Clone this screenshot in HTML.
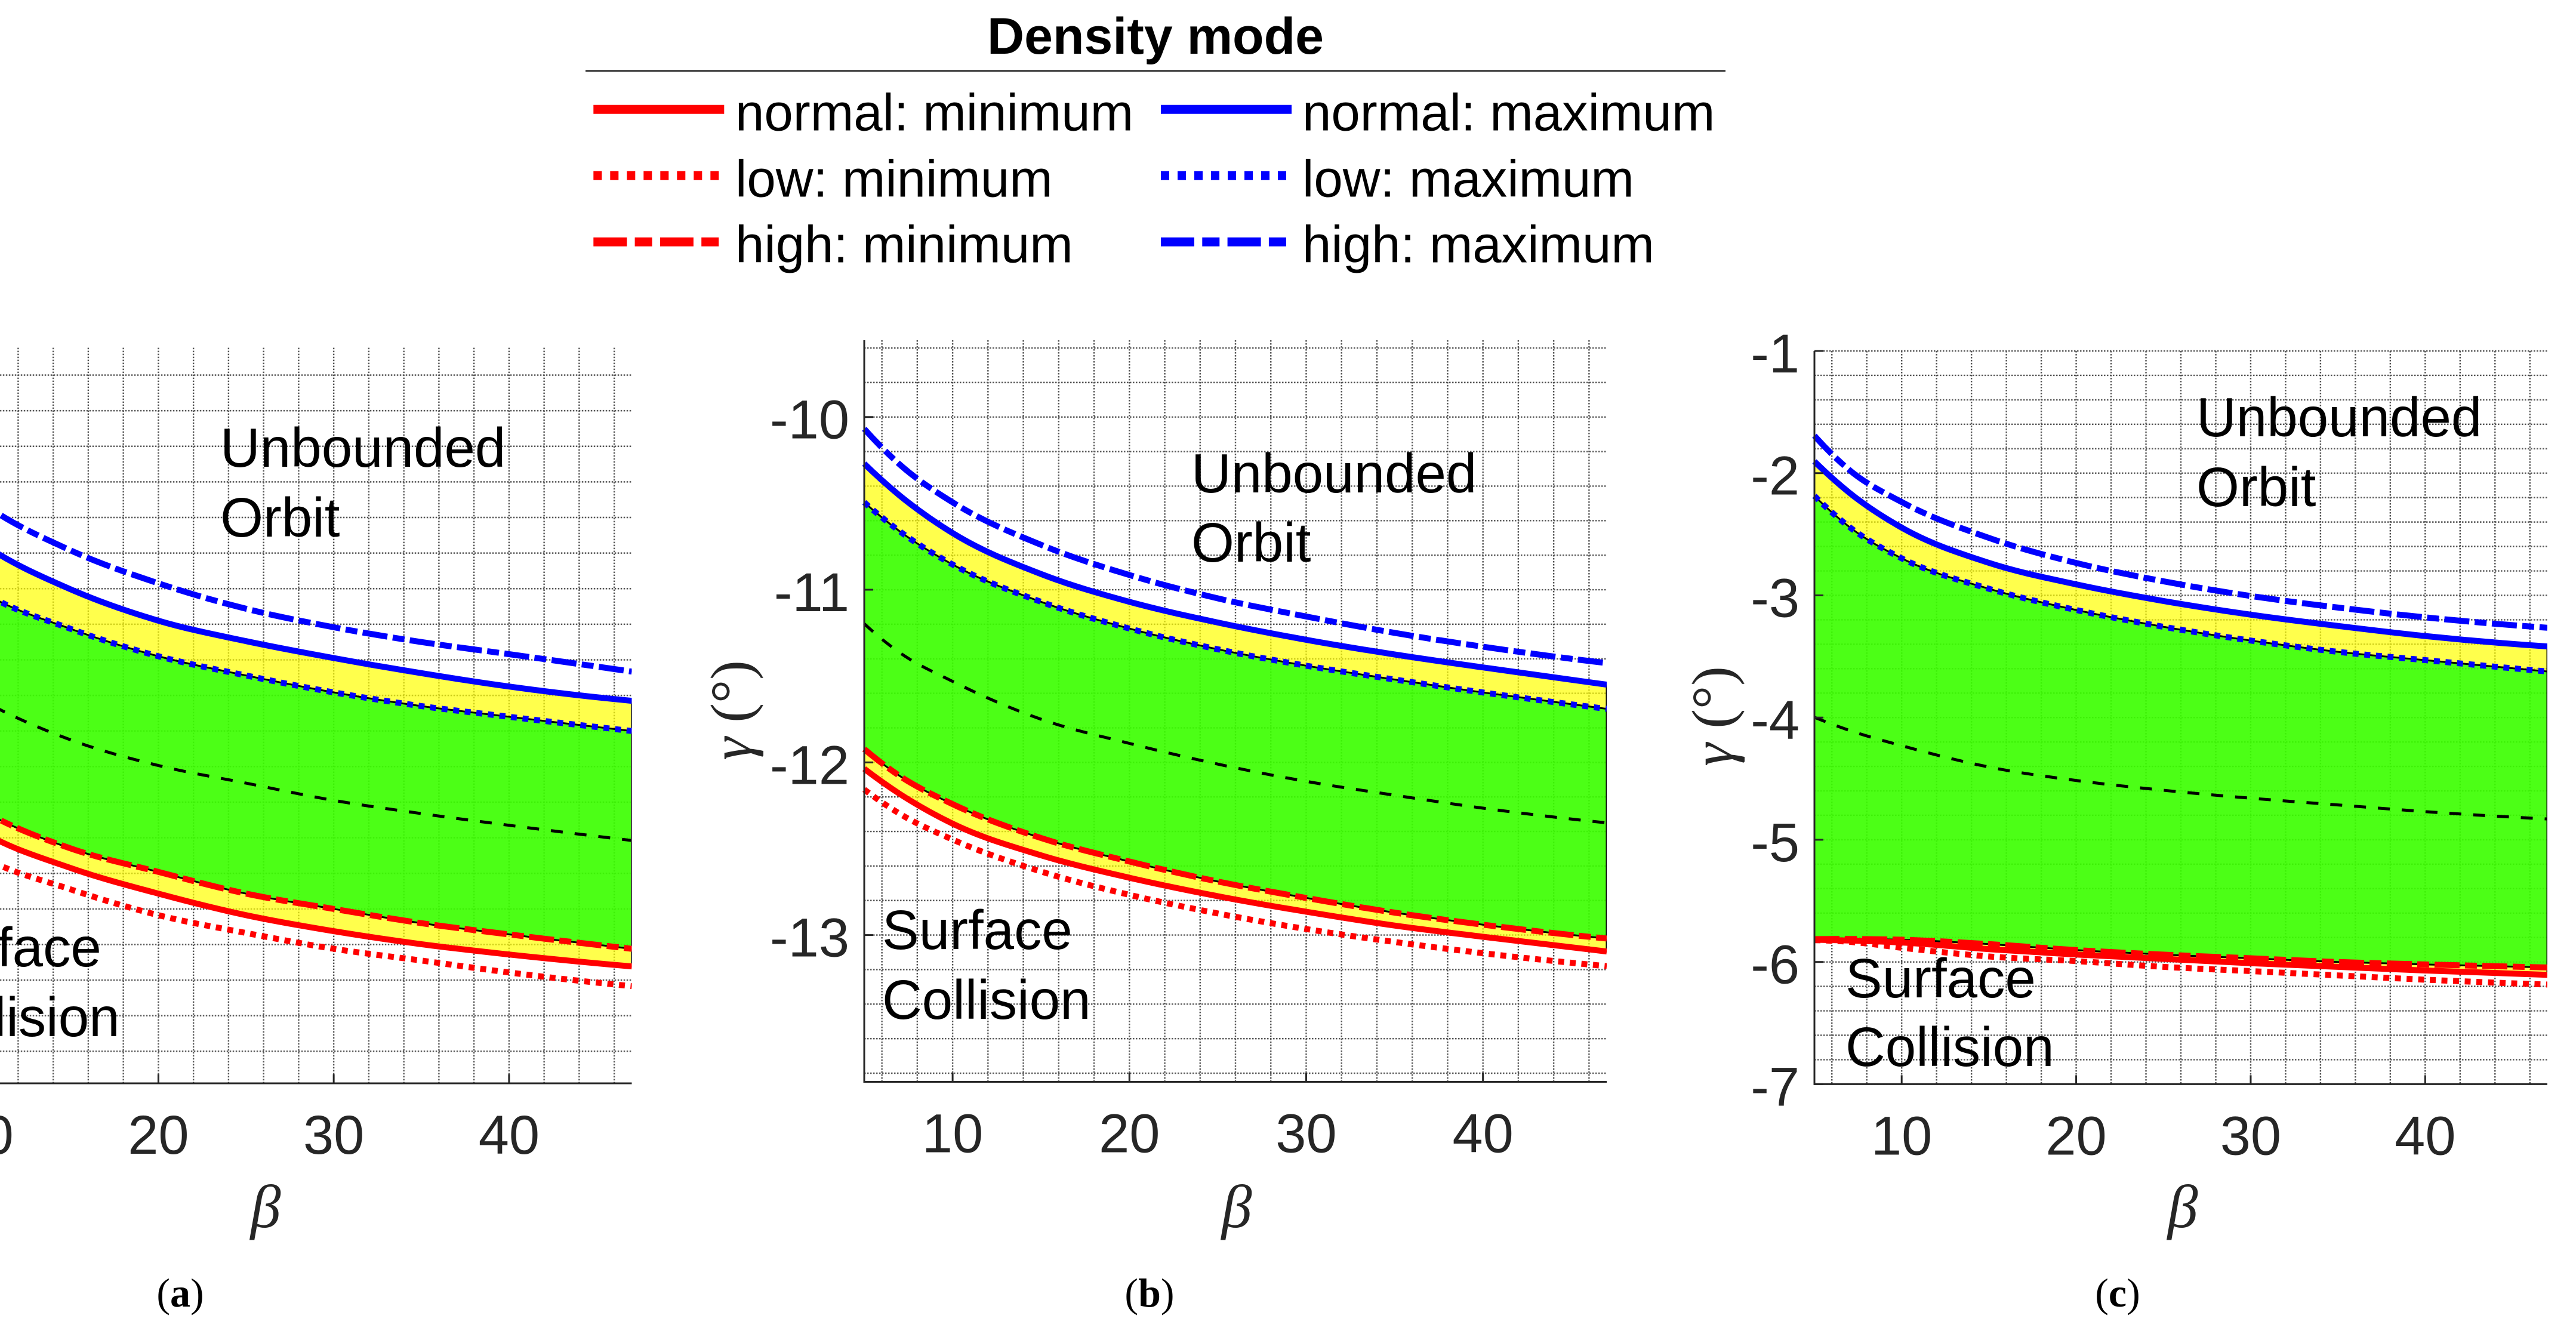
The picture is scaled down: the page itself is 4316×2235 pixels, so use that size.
<!DOCTYPE html>
<html lang="en">
<head>
<meta charset="utf-8">
<title>Density mode corridor charts</title>
<style>
html,body{margin:0;padding:0;background:#fff;width:4316px;height:2235px;overflow:hidden}
svg{display:block}
text{font-family:"Liberation Sans",sans-serif}
.serif{font-family:"Liberation Serif",serif}
.legend-text{font-size:87px;fill:#000}
.note{font-size:92.5px;fill:#000}
.beta{font-family:"Liberation Serif",serif;font-style:italic;font-size:102px;fill:#262626;text-anchor:middle}
.cap{font-family:"Liberation Serif",serif;font-size:68px;fill:#000;text-anchor:middle}
.gamma{font-family:"Liberation Serif",serif;font-size:98px;fill:#262626;text-anchor:middle}
</style>
</head>
<body>
<svg id="figure" xmlns="http://www.w3.org/2000/svg" width="4316" height="2235" viewBox="0 0 4316 2235">
  <rect x="0" y="0" width="4316" height="2235" fill="#fff"/>
  <g id="plots"></g>

  <g>
    <text x="1936" y="90" text-anchor="middle" font-size="86" font-weight="bold" fill="#000">Density mode</text>
    <line x1="981" y1="118.7" x2="2891" y2="118.7" stroke="#333" stroke-width="3"/>

    <line x1="994.3" y1="183.3" x2="1213.3" y2="183.3" stroke="#f00" stroke-width="15"/>
    <text class="legend-text" x="1232" y="218.3">normal: minimum</text>
    <line x1="994.3" y1="294.3" x2="1213.3" y2="294.3" stroke="#f00" stroke-width="15" stroke-dasharray="14 14"/>
    <text class="legend-text" x="1232" y="329.3">low: minimum</text>
    <line x1="994.3" y1="405.3" x2="1213.3" y2="405.3" stroke="#f00" stroke-width="15" stroke-dasharray="56 13.3 29 13.3"/>
    <text class="legend-text" x="1232" y="439.3">high: minimum</text>

    <line x1="1945" y1="183.3" x2="2164" y2="183.3" stroke="#00f" stroke-width="15"/>
    <text class="legend-text" x="2182" y="218.3">normal: maximum</text>
    <line x1="1945" y1="294.3" x2="2164" y2="294.3" stroke="#00f" stroke-width="15" stroke-dasharray="14 14"/>
    <text class="legend-text" x="2182" y="329.3">low: maximum</text>
    <line x1="1945" y1="405.3" x2="2164" y2="405.3" stroke="#00f" stroke-width="15" stroke-dasharray="56 13.3 29 13.3"/>
    <text class="legend-text" x="2182" y="439.3">high: maximum</text>
  </g>

  <g>
    <text class="note" x="369" y="782">Unbounded</text>
    <text class="note" x="369" y="899">Orbit</text>
    <text class="note" x="-149" y="1619">Surface</text>
    <text class="note" x="-149" y="1736">Collision</text>
    <text class="beta" x="445" y="2056">β</text>
    <text class="cap" x="302" y="2189">(<tspan font-weight="bold">a</tspan>)</text>
  </g>

  <g>
    <text class="note" x="1996" y="825">Unbounded</text>
    <text class="note" x="1996" y="941">Orbit</text>
    <text class="note" x="1478" y="1590">Surface</text>
    <text class="note" x="1478" y="1707">Collision</text>
    <text class="beta" x="2072" y="2056">β</text>
    <text class="cap" x="1926" y="2189">(<tspan font-weight="bold">b</tspan>)</text>
    <text class="gamma" transform="translate(1258,1190) rotate(-90)"><tspan font-style="italic">γ</tspan> (°)</text>
  </g>

  <g>
    <text class="note" x="3680" y="731">Unbounded</text>
    <text class="note" x="3680" y="848">Orbit</text>
    <text class="note" x="3092" y="1671">Surface</text>
    <text class="note" x="3092" y="1786">Collision</text>
    <text class="beta" x="3657" y="2056">β</text>
    <text class="cap" x="3548" y="2189">(<tspan font-weight="bold">c</tspan>)</text>
    <text class="gamma" transform="translate(2902,1200) rotate(-90)"><tspan font-style="italic">γ</tspan> (°)</text>
  </g>
</svg>

<script>
// ---- chart data ----
const betaSamples = [5, 7, 10, 15, 20, 25, 30, 35, 40, 47];
const xTickValues = [10, 20, 30, 40];

const yTicksA = [];
const highMaxA = [-7.25, -7.47, -7.72, -7.985, -8.17, -8.313, -8.417, -8.50, -8.568, -8.666];
const normalMaxA = [-7.5, -7.72, -7.95, -8.204, -8.38, -8.495, -8.59, -8.675, -8.75, -8.83];
const lowMaxA = [-7.78, -8.0, -8.22, -8.426, -8.58, -8.688, -8.783, -8.86, -8.92, -9.0];
const midA = [-8.49, -8.65, -8.83, -9.05, -9.194, -9.293, -9.39, -9.464, -9.53, -9.615];
const highMinA = [-9.12, -9.26, -9.45, -9.66, -9.792, -9.914, -10.0, -10.08, -10.143, -10.224];
const normalMinA = [-9.24, -9.37, -9.57, -9.77, -9.914, -10.035, -10.125, -10.198, -10.256, -10.323];
const lowMinA = [-9.38, -9.52, -9.71, -9.89, -10.035, -10.135, -10.224, -10.29, -10.357, -10.434];

const yTicksB = [-10, -11, -12, -13];
const highMaxB = [-10.068, -10.274, -10.494, -10.74, -10.915, -11.05, -11.155, -11.25, -11.33, -11.425];
const normalMaxB = [-10.27, -10.454, -10.672, -10.909, -11.07, -11.19, -11.29, -11.375, -11.45, -11.55];
const lowMaxB = [-10.494, -10.661, -10.854, -11.07, -11.225, -11.345, -11.44, -11.52, -11.595, -11.69];
const midB = [-11.197, -11.364, -11.531, -11.75, -11.89, -12.01, -12.11, -12.19, -12.265, -12.35];
const highMinB = [-11.923, -12.078, -12.242, -12.438, -12.574, -12.69, -12.785, -12.87, -12.94, -13.02];
const normalMinB = [-12.037, -12.182, -12.355, -12.538, -12.668, -12.775, -12.865, -12.945, -13.01, -13.095];
const lowMinB = [-12.157, -12.297, -12.447, -12.632, -12.767, -12.875, -12.965, -13.04, -13.105, -13.18];

const yTicksC = [-1, -2, -3, -4, -5, -6, -7];
const highMaxC = [-1.693, -1.974, -2.236, -2.53, -2.735, -2.885, -3.005, -3.10, -3.18, -3.265];
const normalMaxC = [-1.904, -2.16, -2.446, -2.734, -2.91, -3.046, -3.158, -3.25, -3.333, -3.418];
const lowMaxC = [-2.186, -2.44, -2.697, -2.946, -3.12, -3.257, -3.37, -3.462, -3.53, -3.623];
const midC = [-3.998, -4.105, -4.23, -4.405, -4.515, -4.595, -4.66, -4.715, -4.77, -4.83];
const highMinC = [-5.813, -5.812, -5.818, -5.854, -5.903, -5.94, -5.97, -6.0, -6.02, -6.045];
const normalMinC = [-5.818, -5.825, -5.841, -5.895, -5.939, -5.975, -6.01, -6.04, -6.07, -6.105];
const lowMinC = [-5.822, -5.835, -5.884, -5.955, -5.993, -6.04, -6.075, -6.11, -6.145, -6.185];

// ---- drawing ----
const SVG_NS = 'http://www.w3.org/2000/svg';
const plots = document.getElementById('plots');
const defs = document.createElementNS(SVG_NS, 'defs');
plots.appendChild(defs);

function make(parent, tag, attrs) {
  const el = document.createElementNS(SVG_NS, tag);
  for (const k in attrs) el.setAttribute(k, attrs[k]);
  parent.appendChild(el);
  return el;
}

// Smooth segments through the sampled points with spacing-aware tangents.
function curve(pts) {
  const n = pts.length;
  const h = [], d = [];
  for (let i = 0; i < n - 1; i++) {
    h.push(pts[i + 1][0] - pts[i][0]);
    d.push((pts[i + 1][1] - pts[i][1]) / (pts[i + 1][0] - pts[i][0]));
  }
  const m = new Array(n);
  for (let i = 1; i < n - 1; i++) {
    m[i] = (d[i - 1] * h[i] + d[i] * h[i - 1]) / (h[i - 1] + h[i]);
  }
  m[0] = d[0] + (d[0] - d[1]) * h[0] / (h[0] + h[1]);
  m[n - 1] = d[n - 2] + (d[n - 2] - d[n - 3]) * h[n - 2] / (h[n - 2] + h[n - 3]);
  let out = '';
  for (let i = 0; i < n - 1; i++) {
    const c1x = pts[i][0] + h[i] / 3, c1y = pts[i][1] + m[i] * h[i] / 3;
    const c2x = pts[i + 1][0] - h[i] / 3, c2y = pts[i + 1][1] - m[i + 1] * h[i] / 3;
    out += 'C' + c1x.toFixed(1) + ' ' + c1y.toFixed(1) + ' ' + c2x.toFixed(1) + ' ' + c2y.toFixed(1) + ' ' + pts[i + 1][0].toFixed(1) + ' ' + pts[i + 1][1].toFixed(1);
  }
  return out;
}

// Same curve, walked right-to-left, for closing a band.
function curveBack(pts) {
  const mirrored = pts.map(p => [-p[0], p[1]]).reverse();
  return curve(mirrored).replace(/C(-?[\d.]+) (-?[\d.]+) (-?[\d.]+) (-?[\d.]+) (-?[\d.]+) (-?[\d.]+)/g,
    (m0, a, b, c, e, f, g) => 'C' + (-a) + ' ' + b + ' ' + (-c) + ' ' + e + ' ' + (-f) + ' ' + g);
}

function drawPanel(key, box, yTicks, s) {
  const sx = v => box.left + (v - box.xMin) * (box.right - box.left) / (box.xMax - box.xMin);
  const sy = v => box.top + (box.yTop - v) * (box.bottom - box.top) / (box.yTop - box.yBottom);
  const points = arr => arr.map((v, i) => [sx(betaSamples[i]), sy(v)]);
  const linePath = arr => { const p = points(arr); return 'M' + p[0][0].toFixed(1) + ' ' + p[0][1].toFixed(1) + curve(p); };
  const bandPath = (up, low) => {
    const a = points(up), b = points(low);
    const e = b[b.length - 1];
    return 'M' + a[0][0].toFixed(1) + ' ' + a[0][1].toFixed(1) + curve(a) + 'L' + e[0].toFixed(1) + ' ' + e[1].toFixed(1) + curveBack(b) + 'Z';
  };

  const clip = make(defs, 'clipPath', { id: 'clip-' + key });
  make(clip, 'rect', { x: box.left - 5, y: box.top - 10, width: box.right - box.left + 5, height: box.bottom - box.top + 10 });

  const g = make(plots, 'g', {});
  
  

  const gridG = make(g, 'g', { stroke: '#555', 'stroke-width': 2.4, 'stroke-dasharray': '2.5 2.5', fill: 'none' });
  
  
  for (let b = 6; b <= box.xMax; b += 2) {
    make(gridG, 'line', { x1: sx(b), x2: sx(b), y1: box.top, y2: box.bottom });
  }
  const first = Math.floor(box.yTop * 5 + 1e-6) / 5;
  for (let v = first; v >= box.yBottom - 1e-6; v -= 0.2) {
    make(gridG, 'line', { x1: box.left, x2: box.right, y1: sy(v), y2: sy(v) });
  }

  const plotG = make(g, 'g', { 'clip-path': 'url(#clip-' + key + ')' });

  const yellow = make(plotG, 'path', { d: bandPath(s.normalMax, s.normalMin), fill: '#ffff00', 'fill-opacity': 0.7, stroke: '#000', 'stroke-width': 3 });
  
  

  const green = make(plotG, 'path', { d: bandPath(s.lowMax, s.highMin), fill: '#00ff00', 'fill-opacity': 0.7, stroke: '#000', 'stroke-width': 3 });
  
  

  const mid = make(plotG, 'path', { d: linePath(s.mid), fill: 'none', stroke: '#000', 'stroke-width': 5, 'stroke-dasharray': '20 20' });
  
  

  const lowMin = make(plotG, 'path', { d: linePath(s.lowMin), fill: 'none', stroke: '#f00', 'stroke-width': 10, 'stroke-dasharray': '10 9.5' });
  
  

  const normalMin = make(plotG, 'path', { d: linePath(s.normalMin), fill: 'none', stroke: '#f00', 'stroke-width': 10 });
  
  

  const highMin = make(plotG, 'path', { d: linePath(s.highMin), fill: 'none', stroke: '#f00', 'stroke-width': 10, 'stroke-dasharray': '42 9 20 9' });
  
  

  const lowMax = make(plotG, 'path', { d: linePath(s.lowMax), fill: 'none', stroke: '#00f', 'stroke-width': 10, 'stroke-dasharray': '10 9.5' });
  
  

  const normalMax = make(plotG, 'path', { d: linePath(s.normalMax), fill: 'none', stroke: '#00f', 'stroke-width': 10 });
  
  

  const highMax = make(plotG, 'path', { d: linePath(s.highMax), fill: 'none', stroke: '#00f', 'stroke-width': 10, 'stroke-dasharray': '42 9 20 9' });
  
  

  const axisG = make(g, 'g', { stroke: '#262626', 'stroke-width': 3, fill: 'none' });
  
  
  make(axisG, 'line', { x1: box.left, x2: box.left, y1: box.top, y2: box.bottom + 1.5 });
  make(axisG, 'line', { x1: box.left, x2: box.right, y1: box.bottom, y2: box.bottom });

  xTickValues.forEach(v => {
    make(axisG, 'line', { x1: sx(v), x2: sx(v), y1: box.bottom, y2: box.bottom - 15 });
    const t = make(g, 'text', { x: sx(v), y: box.bottom + 118, 'text-anchor': 'middle', 'font-size': 92, fill: '#262626' });
    
    
    t.textContent = String(v);
  });

  yTicks.forEach(v => {
    make(axisG, 'line', { x1: box.left, x2: box.left + 15, y1: sy(v), y2: sy(v) });
    const t = make(g, 'text', { x: box.left - 25, y: sy(v) + 36, 'text-anchor': 'end', 'font-size': 92, fill: '#262626' });
    
    
    t.textContent = String(v);
  });
}

drawPanel('a', { left: -175.2, right: 1058.5, top: 582.6, bottom: 1815, xMin: 5, xMax: 47, yTop: -6.846, yBottom: -10.98 }, yTicksA,
  { highMax: highMaxA, normalMax: normalMaxA, lowMax: lowMaxA, mid: midA, highMin: highMinA, normalMin: normalMinA, lowMin: lowMinA });
drawPanel('b', { left: 1448, right: 2692, top: 570, bottom: 1812.5, xMin: 5, xMax: 47, yTop: -9.555, yBottom: -13.85 }, yTicksB,
  { highMax: highMaxB, normalMax: normalMaxB, lowMax: lowMaxB, mid: midB, highMin: highMinB, normalMin: normalMinB, lowMin: lowMinB });
drawPanel('c', { left: 3040, right: 4268, top: 588, bottom: 1816.4, xMin: 5, xMax: 47, yTop: -1, yBottom: -7 }, yTicksC,
  { highMax: highMaxC, normalMax: normalMaxC, lowMax: lowMaxC, mid: midC, highMin: highMinC, normalMin: normalMinC, lowMin: lowMinC });
</script>
</body>
</html>
